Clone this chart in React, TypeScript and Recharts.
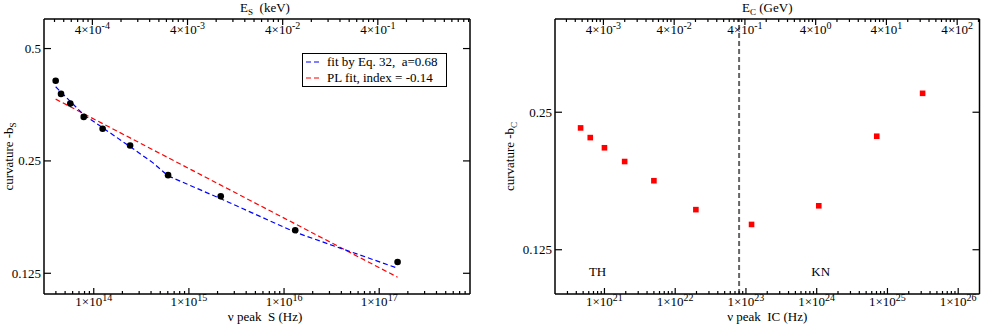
import { ScatterChart, Scatter, XAxis, YAxis, ReferenceLine, ReferenceDot, Label } from "recharts";

const FONT = "'Liberation Serif', 'Times New Roman', serif";
const H_KEV = 4.136e-18; // keV per Hz
const H_GEV = 4.136e-24; // GeV per Hz

// ---- left panel: synchrotron peak vs curvature ----
const syncPeaks = [
  { x: 3.98e13, y: 0.41 },
  { x: 4.53e13, y: 0.378 },
  { x: 5.67e13, y: 0.356 },
  { x: 7.85e13, y: 0.328 },
  { x: 1.24e14, y: 0.305 },
  { x: 2.41e14, y: 0.275 },
  { x: 6.04e14, y: 0.229 },
  { x: 2.16e15, y: 0.201 },
  { x: 1.31e16, y: 0.163 },
  { x: 1.56e17, y: 0.134 },
];
const eq32Fit = [
  { x: 3.98e13, y: 0.395 },
  { x: 7.78e13, y: 0.333 },
  { x: 2.41e14, y: 0.273 },
  { x: 4.2e14, y: 0.247 },
  { x: 6.04e14, y: 0.228 },
  { x: 2.16e15, y: 0.198 },
  { x: 1.31e16, y: 0.161 },
  { x: 3.89e16, y: 0.146 },
  { x: 1.56e17, y: 0.129 },
];
const plFit = [
  { x: 3.98e13, y: 0.366 },
  { x: 1.56e17, y: 0.122 },
];
const syncDomain = [3e13, 9e17];
const syncTicks = [1e14, 1e15, 1e16, 1e17];
const kevTicks = [4e-4, 4e-3, 4e-2, 4e-1];
const syncCurvDomain = [0.11, 0.6];
const syncCurvTicks = [0.125, 0.25, 0.5];

// ---- right panel: IC peak vs curvature ----
const icPeaks = [
  { x: 4.6e20, y: 0.231 },
  { x: 6.3e20, y: 0.22 },
  { x: 1.0e21, y: 0.209 },
  { x: 1.93e21, y: 0.195 },
  { x: 5.0e21, y: 0.177 },
  { x: 1.96e22, y: 0.153 },
  { x: 1.2e23, y: 0.142 },
  { x: 1.07e24, y: 0.156 },
  { x: 7.06e24, y: 0.2215 },
  { x: 3.14e25, y: 0.275 },
];
const icDomain = [2e20, 2e26];
const icTicks = [1e21, 1e22, 1e23, 1e24, 1e25, 1e26];
const gevTicks = [4e-3, 4e-2, 4e-1, 4e0, 4e1, 4e2];
const icCurvDomain = [0.1, 0.4];
const icCurvTicks = [0.125, 0.25];
const thKnBoundary = 8e22;
const regimeLabels = [
  { x: 8e20, y: 0.112, text: "TH" },
  { x: 1.14e24, y: 0.112, text: "KN" },
];

// minor log ticks (2..9 times each decade of the major ticks)
function minorTicks(majors: number[], lo: number, hi: number) {
  const out: number[] = [];
  for (let base = majors[0] / 10; base < hi; base *= 10) {
    for (let m = 2; m <= 9; m++) {
      const v = base * m;
      if (v > lo * 1.001 && v < hi * 0.999) out.push(v);
    }
  }
  return out;
}

function sci(v: number) {
  const e = Math.floor(Math.log10(v) + 1e-9);
  return { m: Math.round(v / Math.pow(10, e)), e };
}

function xTick(majors: number[], side: "top" | "bottom", unit: number) {
  return (p: any) => {
    const v = p.payload.value;
    const major = majors.includes(v);
    const dir = side === "bottom" ? -1 : 1;
    const { m, e } = sci(v * unit);
    return (
      <g>
        <line x1={p.x} x2={p.x} y1={p.y} y2={p.y + dir * (major ? 6 : 3)} stroke="#000" strokeWidth={1.2} />
        {major && (
          <text
            x={p.x}
            y={p.y + (side === "bottom" ? 12 : 15)}
            textAnchor="middle"
            fontFamily={FONT}
            fontSize={13}
            fill="#000"
          >
            {m}×10
            <tspan dy={-5} fontSize={10}>
              {e}
            </tspan>
          </text>
        )}
      </g>
    );
  };
}

function yTick(side: "left" | "right") {
  return (p: any) => {
    const dir = side === "left" ? 1 : -1;
    return (
      <g>
        <line x1={p.x} x2={p.x + dir * 7} y1={p.y} y2={p.y} stroke="#000" strokeWidth={1.2} />
        {side === "left" && (
          <text x={p.x - 3} y={p.y} dy="0.35em" textAnchor="end" fontFamily={FONT} fontSize={13} fill="#000">
            {p.payload.value}
          </text>
        )}
      </g>
    );
  };
}

const textStyle = { fontFamily: FONT, fontSize: 13, fill: "#000", whiteSpace: "pre" as const };

function xTitle(main: string, sub: string, rest: string, dy: number, dx = 0) {
  return ({ viewBox }: any) => (
    <text x={viewBox.x + viewBox.width / 2 + dx} y={viewBox.y + dy} textAnchor="middle" style={textStyle}>
      {main}
      <tspan dy={3} fontSize={9}>
        {sub}
      </tspan>
      <tspan dy={-3}>{rest}</tspan>
    </text>
  );
}

function yTitle(sub: string, dx: number) {
  return ({ viewBox }: any) => (
    <text
      transform={`translate(${viewBox.x + dx},${viewBox.y + viewBox.height / 2}) rotate(-90)`}
      textAnchor="middle"
      style={textStyle}
    >
      curvature -b
      <tspan dy={3} fontSize={9}>
        {sub}
      </tspan>
    </text>
  );
}

function dot(p: any) {
  return <circle cx={p.cx} cy={p.cy} r={3.3} fill="#000" />;
}
function square(p: any) {
  return <rect x={p.cx - 2.8} y={p.cy - 2.8} width={5.6} height={5.6} fill="#ff0000" />;
}
const noShape = () => <g />;

// axes are 1px thick so the plot box sits where the margins put it
const xAxisBase = {
  dataKey: "x",
  type: "number" as const,
  scale: "log" as const,
  allowDataOverflow: true,
  interval: 0 as const,
  height: 1,
  tickSize: 0,
  tickMargin: 0,
  tickLine: false,
  axisLine: { stroke: "#000", strokeWidth: 1.5 },
};
const yAxisBase = {
  dataKey: "y",
  type: "number" as const,
  scale: "log" as const,
  allowDataOverflow: true,
  interval: 0 as const,
  width: 1,
  tickSize: 0,
  tickMargin: 0,
  tickLine: false,
  axisLine: { stroke: "#000", strokeWidth: 1.5 },
};

function SyncPanel() {
  const topMajors = kevTicks.map((e) => e / H_KEV);
  return (
    <ScatterChart width={490} height={327} margin={{ top: 18, right: 19, bottom: 32, left: 43 }}>
      <XAxis
        {...xAxisBase}
        xAxisId="nu"
        domain={syncDomain}
        ticks={[...syncTicks, ...minorTicks(syncTicks, syncDomain[0], syncDomain[1])]}
        tick={xTick(syncTicks, "bottom", 1)}
      >
        <Label content={xTitle("ν peak  S (Hz)", "", "", 27, 8)} />
      </XAxis>
      <XAxis
        {...xAxisBase}
        xAxisId="kev"
        orientation="top"
        domain={syncDomain}
        ticks={[...topMajors, ...minorTicks(topMajors, syncDomain[0], syncDomain[1])]}
        tick={xTick(topMajors, "top", H_KEV)}
      >
        <Label content={xTitle("E", "S", "  (keV)", -6, 8)} />
      </XAxis>
      <YAxis {...yAxisBase} yAxisId="b" domain={syncCurvDomain} ticks={syncCurvTicks} tick={yTick("left")}>
        <Label content={yTitle("S", -30)} />
      </YAxis>
      <YAxis
        {...yAxisBase}
        yAxisId="bR"
        orientation="right"
        domain={syncCurvDomain}
        ticks={syncCurvTicks}
        tick={yTick("right")}
      />
      <Scatter
        xAxisId="nu"
        yAxisId="b"
        data={plFit}
        line={{ stroke: "#ff0000", strokeWidth: 1.2, strokeDasharray: "5 3" }}
        shape={noShape}
        isAnimationActive={false}
      />
      <Scatter
        xAxisId="nu"
        yAxisId="b"
        data={eq32Fit}
        line={{ stroke: "#0000ff", strokeWidth: 1.2, strokeDasharray: "5 3" }}
        shape={noShape}
        isAnimationActive={false}
      />
      <Scatter xAxisId="nu" yAxisId="b" data={syncPeaks} shape={dot} isAnimationActive={false} />
    </ScatterChart>
  );
}

function IcPanel() {
  const topMajors = gevTicks.map((e) => e / H_GEV);
  return (
    <ScatterChart width={491} height={327} margin={{ top: 18, right: 0.5, bottom: 32, left: 64 }}>
      <XAxis
        {...xAxisBase}
        xAxisId="nu"
        domain={icDomain}
        ticks={[...icTicks, ...minorTicks(icTicks, icDomain[0], icDomain[1])]}
        tick={xTick(icTicks, "bottom", 1)}
      >
        <Label content={xTitle("ν peak  IC (Hz)", "", "", 27)} />
      </XAxis>
      <XAxis
        {...xAxisBase}
        xAxisId="gev"
        orientation="top"
        domain={icDomain}
        ticks={[...topMajors, ...minorTicks(topMajors, icDomain[0], icDomain[1])]}
        tick={xTick(topMajors, "top", H_GEV)}
      >
        <Label content={xTitle("E", "C", " (GeV)", -6)} />
      </XAxis>
      <YAxis {...yAxisBase} yAxisId="b" domain={icCurvDomain} ticks={icCurvTicks} tick={yTick("left")}>
        <Label content={yTitle("C", -40)} />
      </YAxis>
      <YAxis
        {...yAxisBase}
        yAxisId="bR"
        orientation="right"
        domain={icCurvDomain}
        ticks={icCurvTicks}
        tick={yTick("right")}
      />
      <ReferenceLine
        xAxisId="nu"
        yAxisId="b"
        x={thKnBoundary}
        stroke="#666"
        strokeWidth={2}
        strokeDasharray="5 3"
      />
      {regimeLabels.map((r) => (
        <ReferenceDot
          key={r.text}
          xAxisId="nu"
          yAxisId="b"
          x={r.x}
          y={r.y}
          r={0}
          stroke="none"
          fill="none"
          label={{ value: r.text, position: "center", fontFamily: FONT, fontSize: 13, fill: "#000" }}
        />
      ))}
      <Scatter xAxisId="nu" yAxisId="b" data={icPeaks} shape={square} isAnimationActive={false} />
    </ScatterChart>
  );
}

function SyncLegend() {
  const rows = [
    { color: "#0000ff", text: "fit by Eq. 32,  a=0.68" },
    { color: "#ff0000", text: "PL fit, index = -0.14" },
  ];
  return (
    <div
      style={{
        position: "absolute",
        left: 302,
        top: 53,
        width: 143,
        height: 32,
        border: "1.2px solid #000",
        background: "#fff",
        fontFamily: FONT,
        fontSize: 13,
        lineHeight: "16px",
        color: "#000",
        whiteSpace: "pre",
      }}
    >
      {rows.map((r) => (
        <div key={r.text} style={{ display: "flex", alignItems: "center", height: 16 }}>
          <svg width={24} height={16} style={{ flex: "none" }}>
            <line x1={3} x2={18} y1={8} y2={8} stroke={r.color} strokeWidth={1.2} strokeDasharray="5 3" />
          </svg>
          <span>{r.text}</span>
        </div>
      ))}
    </div>
  );
}

export default function App() {
  return (
    <div style={{ position: "absolute", left: 0, top: 0, width: 981, height: 327, background: "#fff" }}>
      <div style={{ position: "absolute", left: 0, top: 0 }}>
        <SyncPanel />
      </div>
      <SyncLegend />
      <div style={{ position: "absolute", left: 490, top: 0 }}>
        <IcPanel />
      </div>
    </div>
  );
}
